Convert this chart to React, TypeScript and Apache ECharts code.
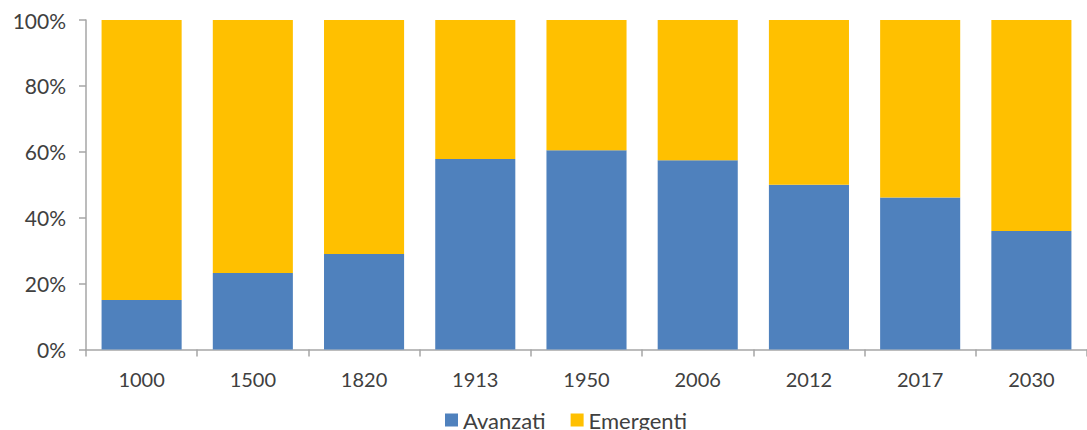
import React, { useEffect, useRef } from "react";
import * as echarts from "echarts";

const categories = ["1000", "1500", "1820", "1913", "1950", "2006", "2012", "2017", "2030"];
const avanzati = [15, 23.2, 29, 57.8, 60.5, 57.4, 50, 46.1, 36];
const emergenti = avanzati.map((v) => +(100 - v).toFixed(1));
const yTicks = [0, 20, 40, 60, 80, 100];

export default function App() {
  const ref = useRef<HTMLDivElement>(null);
  useEffect(() => {
    document.body.style.margin = "0";
    const chart = echarts.init(ref.current!, null, { renderer: "svg" });
    const textColor = "#404040";
    const font = "Lato, 'Open Sans', sans-serif";
    chart.setOption({
      animation: false,
      textStyle: { fontFamily: font },
      grid: { left: 86, top: 20, width: 1012.5, height: 329.5 },
      legend: {
        data: ["Avanzati", "Emergenti"],
        left: 445,
        top: 409,
        padding: 0,
        itemWidth: 13,
        itemHeight: 13,
        itemGap: 25,
        icon: "rect",
        textStyle: { fontSize: 22, color: textColor, fontFamily: font, padding: [0, 0, 0, 0] },
      },
      xAxis: {
        type: "category",
        data: categories,
        axisLine: { lineStyle: { color: "#A6A6A6", width: 1.5 } },
        axisTick: { show: true, alignWithLabel: false, length: 7, lineStyle: { color: "#A6A6A6", width: 1.5 } },
        axisLabel: { fontSize: 20, color: textColor, margin: 19, fontFamily: font },
      },
      yAxis: {
        type: "value",
        min: 0,
        max: 100,
        interval: 20,
        axisLine: { show: true, lineStyle: { color: "#A6A6A6", width: 1.5 } },
        axisTick: { show: true, length: 7, lineStyle: { color: "#A6A6A6", width: 1.5 } },
        splitLine: { show: false },
        axisLabel: {
          fontSize: 21,
          color: textColor,
          margin: 20,
          fontFamily: font,
          formatter: (v: number) => (yTicks.includes(v) ? v + "%" : ""),
        },
      },
      series: [
        {
          name: "Avanzati",
          type: "bar",
          stack: "total",
          data: avanzati,
          barCategoryGap: "28%",
          itemStyle: { color: "#4F81BD" },
        },
        {
          name: "Emergenti",
          type: "bar",
          stack: "total",
          data: emergenti,
          itemStyle: { color: "#FFC000" },
        },
      ],
    });
    return () => chart.dispose();
  }, []);
  return <div ref={ref} style={{ width: 1087, height: 430 }} />;
}
